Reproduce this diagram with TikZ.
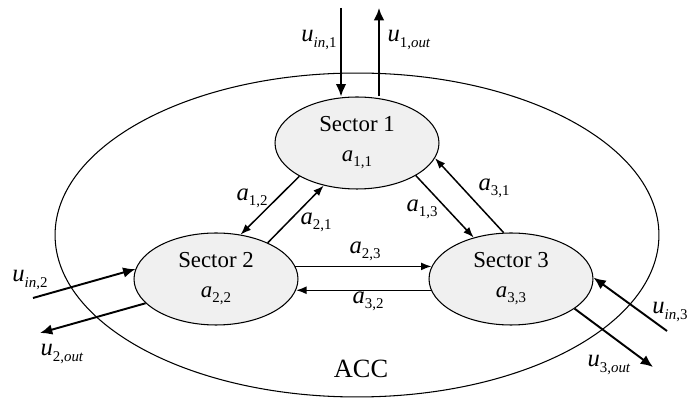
\documentclass[tikz,border=0pt]{standalone}
\usepackage{fontspec}
\setmainfont{Liberation Serif}
\usetikzlibrary{shapes.geometric,arrows.meta}
\newcommand{\sym}[2]{\textit{#1}\raisebox{-3pt}{\fontsize{8.5}{9}\selectfont #2}}

\begin{document}
\begin{tikzpicture}[x=0.02cm,y=-0.02cm,
        sector/.style={ellipse,draw,line width=0.6pt,fill=gray!12,minimum width=3.28cm,minimum height=1.84cm,
            inner sep=0pt,align=center,font=\fontsize{13}{15}\selectfont},
        lbl/.style={font=\fontsize{14}{16}\selectfont,inner sep=0pt},
        flow/.style={line width=1.1pt,-{Latex[length=7pt,width=6pt]}},
        link/.style={line width=0.85pt,-{Latex[length=6pt,width=4.5pt]}}]
        \useasboundingbox (0,0) rectangle (687,398);
        \draw[line width=0.6pt] (357,235) ellipse [x radius=6.04cm,y radius=3.24cm];
        \node[font=\fontsize{15}{17}\selectfont] (acc) at (361,369) {ACC};
        \node[sector] (s1) at (357,143) {Sector 1\\[2pt]\sym{a}{1,1}};
        \node[sector] (s2) at (216,279) {Sector 2\\[2pt]\sym{a}{2,2}};
        \node[sector] (s3) at (511,279) {Sector 3\\[2pt]\sym{a}{3,3}};
        \coordinate (ui1) at (341,8);
        \coordinate (uo1) at (379,8);
        \coordinate (ui2) at (33,298);
        \coordinate (uo2) at (40,333);
        \coordinate (ui3) at (667,331);
        \coordinate (uo3) at (653,367);
        \draw[flow] (ui1) -- (ui1 |- s1.north);
        \draw[flow] (uo1 |- s1.north) -- (uo1);
        \draw[flow] (ui2) -- (s2.173);
        \draw[flow] (s2.199) -- (uo2);
        \draw[flow] (ui3) -- (s3.1);
        \draw[flow] (s3.335) -- (uo3);
        \draw[link] (s1.210) -- (s2.61);
        \draw[link] (s2.35) -- (s1.232);
        \draw[link] (s1.331) -- (s3.132);
        \draw[link] (s3.99) -- (s1.349);
        \draw[link] (s2.9) -- (s3.171);
        \draw[link] (s3.188) -- (s2.352);
        \node[lbl] (lui1) at (319,40) {\sym{u}{\textit{in},1}};
        \node[lbl] (luo1) at (409,40) {\sym{u}{1,\textit{out}}};
        \node[lbl] (lui2) at (30,280) {\sym{u}{\textit{in},2}};
        \node[lbl] (luo2) at (62,354) {\sym{u}{2,\textit{out}}};
        \node[lbl,anchor=west] (lui3) at (652,312) {\sym{u}{\textit{in},3}};
        \node[lbl] (luo3) at (609,365) {\sym{u}{3,\textit{out}}};
        \node[lbl] (la12) at (252,198) {\sym{a}{1,2}};
        \node[lbl] (la21) at (316,222) {\sym{a}{2,1}};
        \node[lbl] (la13) at (422,209) {\sym{a}{1,3}};
        \node[lbl] (la31) at (494,188) {\sym{a}{3,1}};
        \node[lbl] (la23) at (365,251) {\sym{a}{2,3}};
        \node[lbl] (la32) at (368,301) {\sym{a}{3,2}};
    \end{tikzpicture}
\end{document}
